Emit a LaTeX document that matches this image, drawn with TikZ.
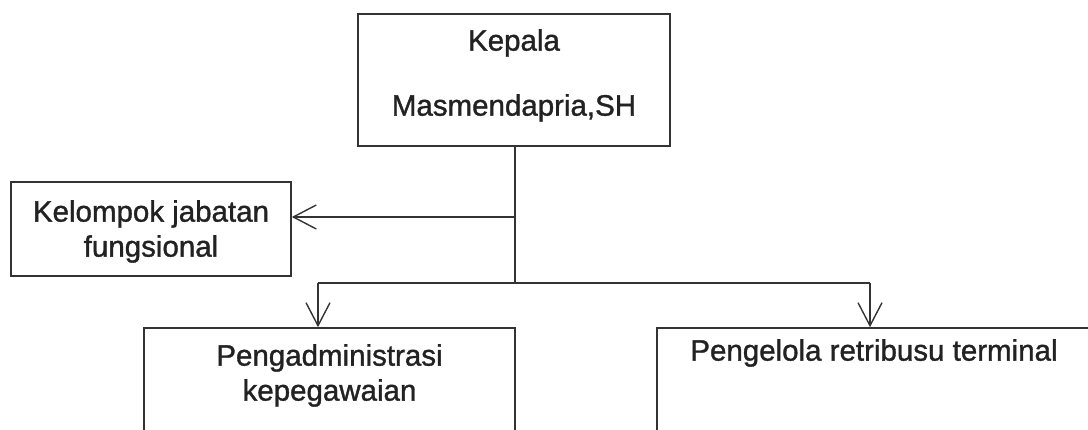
\documentclass[tikz,border=0pt]{standalone}
\usepackage{fontspec}
\setmainfont{Liberation Sans}[FakeBold=1.2]
\usetikzlibrary{arrows.meta}
\definecolor{ink}{HTML}{333333}
\definecolor{txt}{HTML}{222222}
\tikzset{
  box/.style={draw=ink, line width=1.6pt, rectangle, inner sep=0pt},
  lbl/.style={text=txt, inner sep=0pt, font=\fontsize{29.5}{34}\selectfont},
  conn/.style={draw=ink, line width=1.6pt},
  arr/.style={conn, -{Straight Barb[length=23pt,width=24pt,line width=1.4pt]}}
}
\begin{document}
\begin{tikzpicture}[x=1pt,y=-1pt]
\useasboundingbox (0,0) rectangle (1088,430);
\clip (0,0) rectangle (1088,430);
% boxes
\node[box, minimum width=312pt, minimum height=132pt] (top) at (514,80) {};
\node[box, minimum width=280pt, minimum height=94pt] (kel) at (151,229) {};
\node[box, minimum width=371pt, minimum height=160pt] (adm) at (329.5,408) {};
\node[box, minimum width=440pt, minimum height=160pt] (ret) at (877,408) {};
% labels
\node[lbl] (t1) at (514,43) {Kepala};
\node[lbl] (t2) at (514,108) {Masmendapria,SH};
\node[lbl] (k1) at (151,214) {Kelompok jabatan};
\node[lbl] (k2) at (151,249) {fungsional};
\node[lbl] (a1) at (329.5,358) {Pengadministrasi};
\node[lbl] (a2) at (329.5,393) {kepegawaian};
\node[lbl] (r1) at (874,353) {Pengelola retribusu terminal};
% connectors
\coordinate (jk) at (515,217);
\coordinate (jb) at (515,283);
\coordinate (jl) at (318,283);
\coordinate (jr) at (870,283);
\draw[conn] (top.south -| jb) -- (jb);
\draw[arr] (jk) -- (kel.east |- jk);
\draw[conn] (jl) -- (jr);
\draw[arr] (jl) -- (adm.north -| jl);
\draw[arr] (jr) -- (ret.north -| jr);
\end{tikzpicture}
\end{document}
